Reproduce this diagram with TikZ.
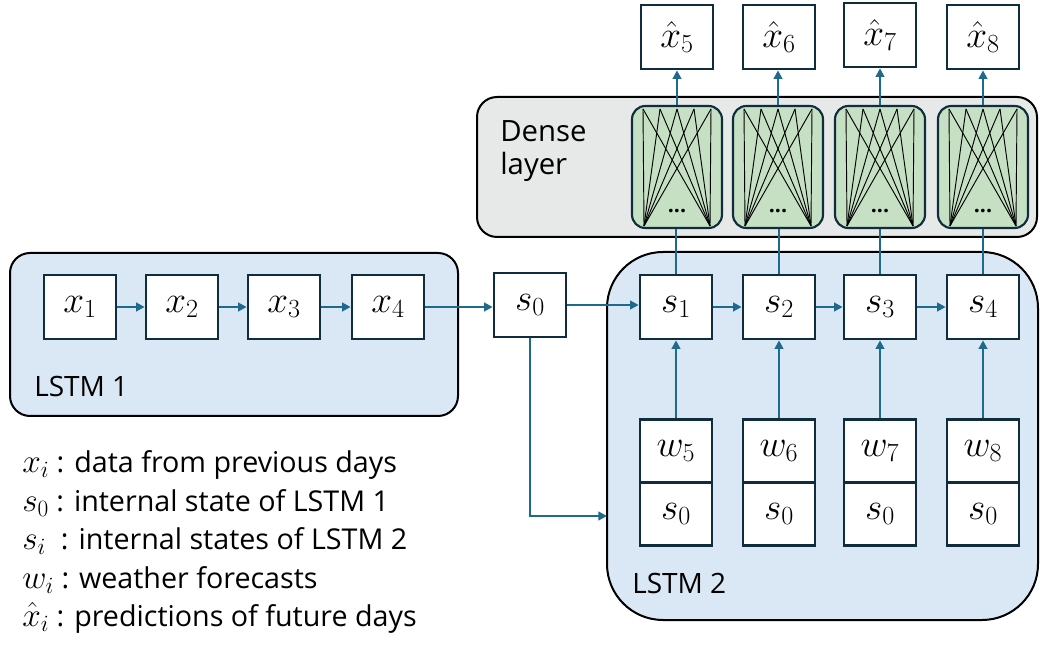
\RequirePackage{fix-cm}
\documentclass[tikz,border=0pt]{standalone}
\usepackage{fontspec}
\setmainfont{Open Sans}
\usetikzlibrary{arrows.meta,calc}
\definecolor{lstmfill}{HTML}{DAE8F5}
\definecolor{densefill}{HTML}{E7E8E8}
\definecolor{greenfill}{HTML}{C5E0C3}
\definecolor{boxdraw}{HTML}{0F2D3C}
\definecolor{arrowc}{HTML}{1D6A8C}
\newcommand{\legm}[1]{{\fontsize{25}{28}\selectfont$#1$}}
\tikzset{
  container/.style={draw=black, line width=1.5pt, inner sep=0pt},
  mbox/.style={draw=boxdraw, line width=2pt, fill=white, minimum width=54pt, minimum height=48pt, inner sep=0pt, font=\fontsize{28}{32}\selectfont},
  dbox/.style={draw=boxdraw, line width=1.6pt, fill=greenfill, rounded corners=10pt, minimum width=67.5pt, minimum height=91.5pt, inner sep=0pt},
  arr/.style={draw=arrowc, line width=1.8pt, -{Triangle[length=6.5pt,width=6.5pt]}},
  conn/.style={draw=arrowc, line width=1.8pt},
  lbl/.style={font=\fontsize{21}{25}\selectfont, inner sep=0pt},
  leg/.style={font=\fontsize{21.5}{25}\selectfont, inner sep=0pt, anchor=base west},
}
\begin{document}
\begin{tikzpicture}[x=0.75pt,y=-0.75pt]
\useasboundingbox (0,0) rectangle (1043,648);
% containers
\node[container, fill=lstmfill, rounded corners=15pt, minimum width=336pt, minimum height=122.25pt] (lstm1) at (234,334.5) {};
\node[container, fill=lstmfill, rounded corners=42pt, minimum width=323.25pt, minimum height=276pt] (lstm2) at (822.5,436) {};
\node[container, fill=densefill, rounded corners=15pt, minimum width=420pt, minimum height=105pt] (dense) at (757,167) {};
\node[lbl, anchor=base west] (lab1) at (34,397) {LSTM 1};
\node[lbl, anchor=base west] (lab2) at (632,594) {LSTM 2};
\node[lbl, anchor=base west, font=\fontsize{22}{26}\selectfont] (labd1) at (500,142) {Dense};
\node[lbl, anchor=base west, font=\fontsize{22}{26}\selectfont] (labd2) at (500,175) {layer};
% LSTM 1 inputs
\node[mbox] (x1) at (80,307) {$x_1$};
\node[mbox] (x2) at (182,307) {$x_2$};
\node[mbox] (x3) at (284,307) {$x_3$};
\node[mbox] (x4) at (388,307) {$x_4$};
\node[mbox] (s0) at (530,305) {$s_0$};
% LSTM 2 states
\node[mbox] (s1) at (676,307) {$s_1$};
\node[mbox] (s2) at (779,307) {$s_2$};
\node[mbox] (s3) at (880,307) {$s_3$};
\node[mbox] (s4) at (983,307) {$s_4$};
% inputs
\node[mbox, minimum height=47.25pt] (w5) at (676,451) {$w_5$};
\node[mbox, minimum height=47.25pt] (w6) at (779,451) {$w_6$};
\node[mbox, minimum height=47.25pt] (w7) at (880,451) {$w_7$};
\node[mbox, minimum height=47.25pt] (w8) at (983,451) {$w_8$};
\node[mbox, minimum height=47.25pt] (b5) at (676,514) {$s_0$};
\node[mbox, minimum height=47.25pt] (b6) at (779,514) {$s_0$};
\node[mbox, minimum height=47.25pt] (b7) at (880,514) {$s_0$};
\node[mbox, minimum height=47.25pt] (b8) at (983,514) {$s_0$};
% dense units
\foreach \i/\xx in {1/677,2/778,3/880,4/983}{
  \node[dbox] (d\i) at (\xx,167) {};
  \foreach \t in {-34,-17,0,17,34}{
    \foreach \b in {-33,33}{
      \draw[black, line width=0.7pt] ($(d\i.center)+(\t,-58)$) -- ($(d\i.center)+(\b,59)$);
    }
  }
  \node[font=\fontsize{16}{16}\bfseries, inner sep=0pt] at ($(d\i.center)+(0,44)$) {...};
}
% outputs
\node[mbox] (h5) at (677,37) {$\hat{x}_5$};
\node[mbox] (h6) at (779,37) {$\hat{x}_6$};
\node[mbox] (h7) at (880,35) {$\hat{x}_7$};
\node[mbox] (h8) at (983,37) {$\hat{x}_8$};
% connectors
\draw[arr] (x1) -- (x2);
\draw[arr] (x2) -- (x3);
\draw[arr] (x3) -- (x4);
\draw[arr] (x4.east) -- (x4.east -| s0.west);
\draw[arr] (s0.east) -- (s0.east -| s1.west);
\draw[arr] (s1) -- (s2);
\draw[arr] (s2) -- (s3);
\draw[arr] (s3) -- (s4);
\coordinate (in2) at (607,516);
\draw[arr] (s0.south) |- (in2);
\foreach \i/\j in {1/5,2/6,3/7,4/8}{
  \draw[arr] (w\j.north) -- (s\i.south);
  \draw[conn] (s\i.north) -- (s\i.north |- d\i.south);
  \draw[arr] (d\i.north) -- (d\i.north |- h\j.south);
}
% legend
\node[leg] (l1) at (22,473) {\legm{x_i} : data from previous days};
\node[leg] (l2) at (22,512) {\legm{s_0} : internal state of LSTM 1};
\node[leg] (l3) at (22,550) {\legm{s_i} \ : internal states of LSTM 2};
\node[leg] (l4) at (22,588) {\legm{w_i} : weather forecasts};
\node[leg] (l5) at (22,626) {\legm{\hat{x}_i} : predictions of future days};
\end{tikzpicture}
\end{document}
